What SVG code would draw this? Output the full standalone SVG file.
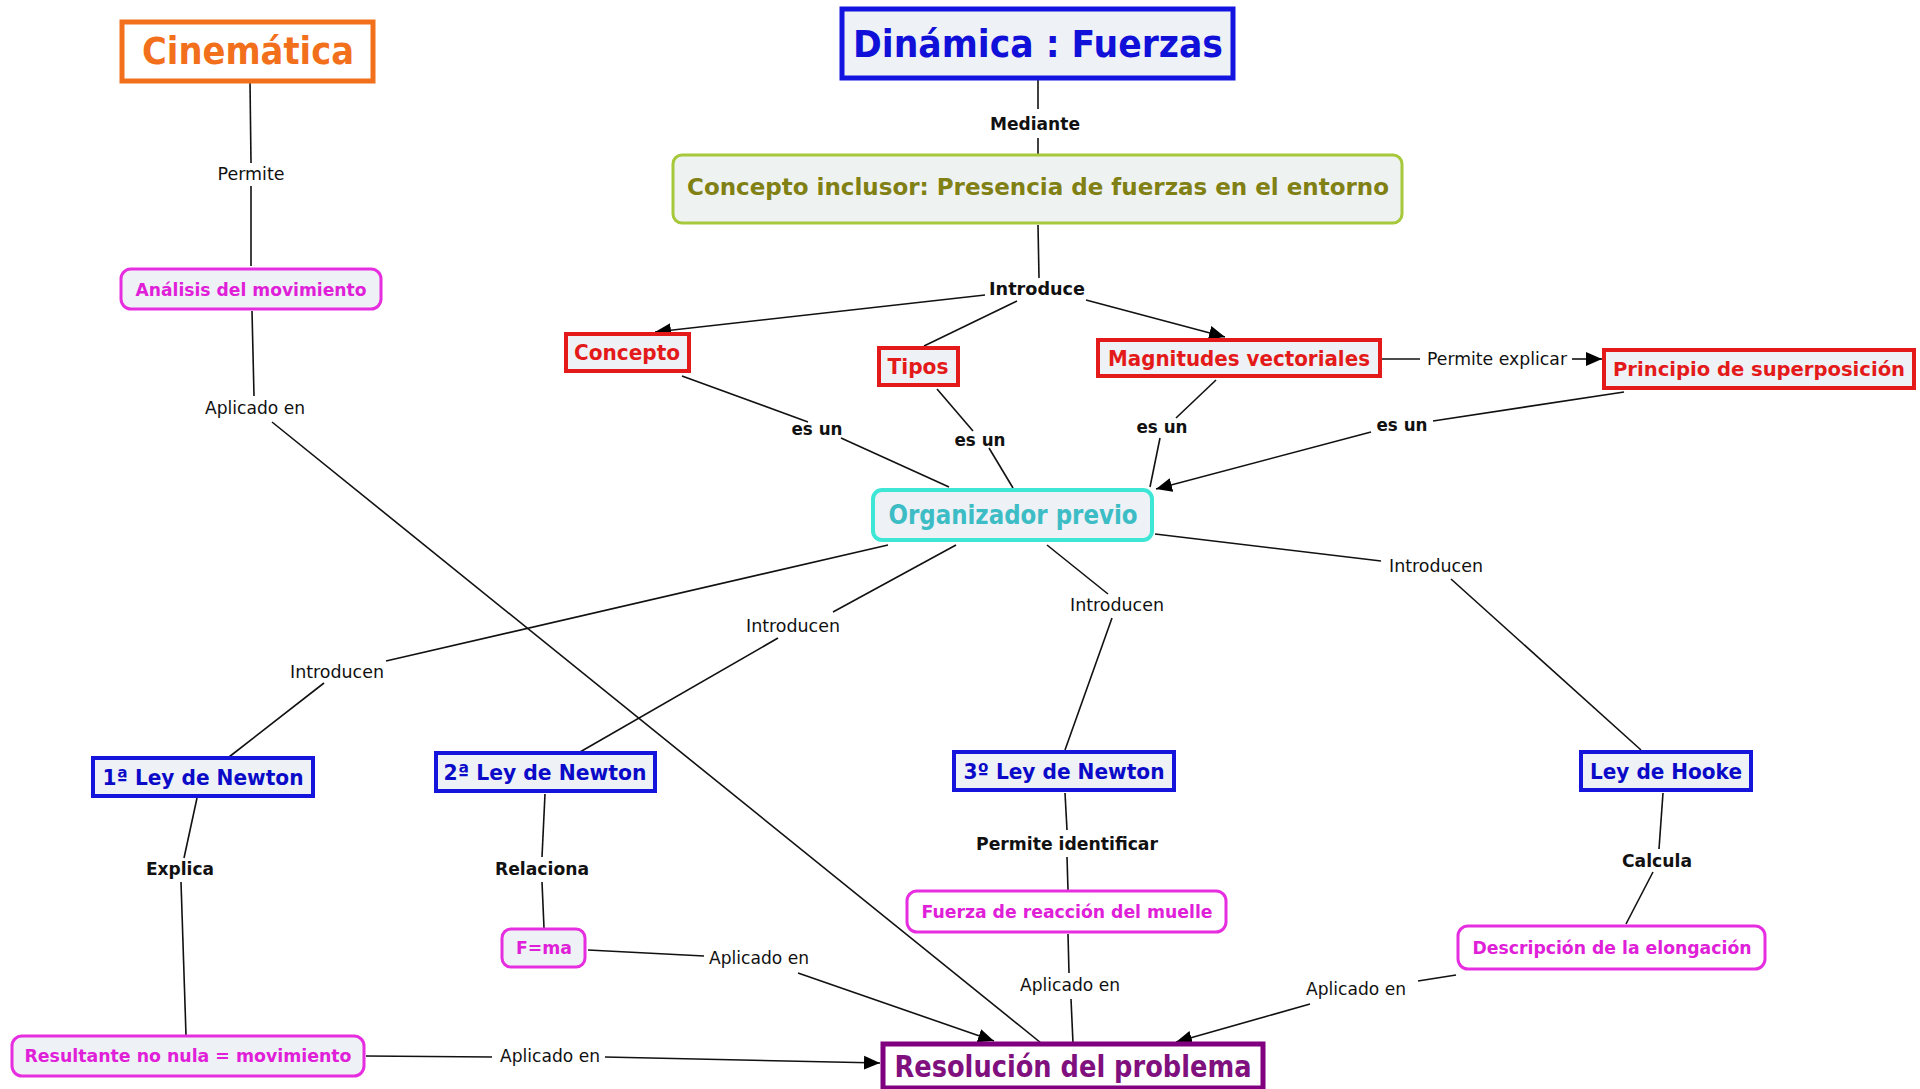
<svg xmlns="http://www.w3.org/2000/svg" width="1920" height="1089" viewBox="0 0 1920 1089">
<style>
text{font-family:"DejaVu Sans",Verdana,sans-serif;text-anchor:middle}
.b{font-weight:bold}
.lbl{font-size:17px;fill:#111}
.lb{font-size:17px;font-weight:bold;fill:#111}
.c line{stroke:#111;stroke-width:1.6}
.box{fill:#eef2f6}
.red rect{stroke:#e41a1a;stroke-width:4}
.red text{fill:#e41a1a;font-size:21px;font-weight:bold}
.blue rect{stroke:#1414dc;stroke-width:4}
.blue text{fill:#0a0ac8;font-size:21px;font-weight:bold}
.mag rect{stroke:#e62ee0;stroke-width:3}
.mag text{fill:#e020d8;font-size:18px;font-weight:bold}
</style>
<defs>
<marker id="ar" markerUnits="userSpaceOnUse" markerWidth="18" markerHeight="16" refX="16" refY="8" orient="auto"><path d="M0,1 L16,8 L0,15 Z" fill="#000"/></marker>
</defs>
<rect width="1920" height="1089" fill="#fff"/>
<g class="c">
<line x1="250" y1="82" x2="251" y2="163"/><line x1="251" y1="186" x2="251" y2="266"/>
<line x1="252" y1="311" x2="254" y2="396"/><line x1="272" y1="422" x2="1041" y2="1043"/>
<line x1="1038" y1="80" x2="1038" y2="109"/><line x1="1038" y1="138" x2="1038" y2="155"/>
<line x1="1038" y1="225" x2="1039" y2="278"/>
<line x1="985" y1="295" x2="655" y2="332" marker-end="url(#ar)"/>
<line x1="1017" y1="301" x2="924" y2="346"/>
<line x1="1086" y1="300" x2="1225" y2="337" marker-end="url(#ar)"/>
<line x1="1382" y1="359" x2="1420" y2="359"/><line x1="1572" y1="359" x2="1602" y2="359" marker-end="url(#ar)"/>
<line x1="682" y1="376" x2="808" y2="422"/><line x1="841" y1="438" x2="949" y2="487"/>
<line x1="937" y1="389" x2="973" y2="431"/><line x1="989" y1="448" x2="1013" y2="488"/>
<line x1="1216" y1="380" x2="1176" y2="418"/><line x1="1160" y1="438" x2="1150" y2="487"/>
<line x1="1624" y1="392" x2="1433" y2="421"/><line x1="1371" y1="432" x2="1156" y2="489" marker-end="url(#ar)"/>
<line x1="888" y1="545" x2="386" y2="661"/><line x1="324" y1="683" x2="229" y2="757"/>
<line x1="956" y1="545" x2="833" y2="612"/><line x1="778" y1="638" x2="580" y2="752"/>
<line x1="1047" y1="545" x2="1108" y2="594"/><line x1="1112" y1="618" x2="1065" y2="750"/>
<line x1="1155" y1="534" x2="1381" y2="561"/><line x1="1451" y1="579" x2="1641" y2="750"/>
<line x1="197" y1="798" x2="184" y2="858"/><line x1="181" y1="882" x2="186" y2="1035"/>
<line x1="545" y1="794" x2="542" y2="857"/><line x1="542" y1="882" x2="544" y2="928"/>
<line x1="1065" y1="793" x2="1067" y2="830"/><line x1="1067" y1="857" x2="1068" y2="890"/>
<line x1="1663" y1="793" x2="1659" y2="849"/><line x1="1653" y1="872" x2="1626" y2="924"/>
<line x1="588" y1="950" x2="704" y2="956"/><line x1="798" y1="973" x2="994" y2="1041" marker-end="url(#ar)"/>
<line x1="1068" y1="934" x2="1069" y2="973"/><line x1="1071" y1="999" x2="1073" y2="1043"/>
<line x1="1456" y1="975" x2="1418" y2="981"/><line x1="1310" y1="1004" x2="1176" y2="1042" marker-end="url(#ar)"/>
<line x1="366" y1="1056" x2="492" y2="1057"/><line x1="605" y1="1057" x2="880" y2="1063" marker-end="url(#ar)"/>
<text class="lbl" x="251" y="180" textLength="67" lengthAdjust="spacingAndGlyphs">Permite</text>
<text class="lbl" x="255" y="414" textLength="100" lengthAdjust="spacingAndGlyphs">Aplicado en</text>
<text class="lb" x="1035" y="130" textLength="90" lengthAdjust="spacingAndGlyphs">Mediante</text>
<text class="lb" x="1037" y="295" textLength="96" lengthAdjust="spacingAndGlyphs">Introduce</text>
<text class="lbl" x="1497" y="365" textLength="140" lengthAdjust="spacingAndGlyphs">Permite explicar</text>
<text class="lb" x="817" y="435" textLength="51" lengthAdjust="spacingAndGlyphs">es un</text>
<text class="lb" x="980" y="446" textLength="51" lengthAdjust="spacingAndGlyphs">es un</text>
<text class="lb" x="1162" y="433" textLength="51" lengthAdjust="spacingAndGlyphs">es un</text>
<text class="lb" x="1402" y="431" textLength="51" lengthAdjust="spacingAndGlyphs">es un</text>
<text class="lbl" x="337" y="678" textLength="94" lengthAdjust="spacingAndGlyphs">Introducen</text>
<text class="lbl" x="793" y="632" textLength="94" lengthAdjust="spacingAndGlyphs">Introducen</text>
<text class="lbl" x="1117" y="611" textLength="94" lengthAdjust="spacingAndGlyphs">Introducen</text>
<text class="lbl" x="1436" y="572" textLength="94" lengthAdjust="spacingAndGlyphs">Introducen</text>
<text class="lb" x="180" y="875" textLength="68" lengthAdjust="spacingAndGlyphs">Explica</text>
<text class="lb" x="542" y="875" textLength="94" lengthAdjust="spacingAndGlyphs">Relaciona</text>
<text class="lb" x="1067" y="850" textLength="182" lengthAdjust="spacingAndGlyphs">Permite identificar</text>
<text class="lb" x="1657" y="867" textLength="70" lengthAdjust="spacingAndGlyphs">Calcula</text>
<text class="lbl" x="759" y="964" textLength="100" lengthAdjust="spacingAndGlyphs">Aplicado en</text>
<text class="lbl" x="1070" y="991" textLength="100" lengthAdjust="spacingAndGlyphs">Aplicado en</text>
<text class="lbl" x="1356" y="995" textLength="100" lengthAdjust="spacingAndGlyphs">Aplicado en</text>
<text class="lbl" x="550" y="1062" textLength="100" lengthAdjust="spacingAndGlyphs">Aplicado en</text>
</g>
<g id="cinematica"><rect x="122" y="22" width="251" height="59" fill="#fff" stroke="#f2701c" stroke-width="5"/><text x="248" y="64" class="b" font-size="37" fill="#f2701c" textLength="212" lengthAdjust="spacingAndGlyphs">Cinemática</text></g>
<g id="dinamica"><rect x="842" y="9" width="391" height="69" class="box" stroke="#1414e0" stroke-width="5"/><text x="1038" y="57" class="b" font-size="37" fill="#1010d8" textLength="370" lengthAdjust="spacingAndGlyphs">Dinámica : Fuerzas</text></g>
<g id="inclusor"><rect x="673" y="155" width="729" height="68" rx="9" fill="#eef3f2" stroke="#a6c83a" stroke-width="3"/><text x="1038" y="195" class="b" font-size="23" fill="#808014" textLength="702" lengthAdjust="spacingAndGlyphs">Concepto inclusor: Presencia de fuerzas en el entorno</text></g>
<g id="analisis" class="mag"><rect x="121" y="269" width="260" height="40" rx="10" class="box"/><text x="251" y="296" textLength="231" lengthAdjust="spacingAndGlyphs">Análisis del movimiento</text></g>
<g id="concepto" class="red"><rect x="566" y="334" width="123" height="37" class="box"/><text x="627" y="360" textLength="106" lengthAdjust="spacingAndGlyphs">Concepto</text></g>
<g id="tipos" class="red"><rect x="879" y="348" width="79" height="37" class="box"/><text x="918" y="374" textLength="61" lengthAdjust="spacingAndGlyphs">Tipos</text></g>
<g id="magnitudes" class="red"><rect x="1098" y="340" width="282" height="36" class="box"/><text x="1239" y="366" textLength="262" lengthAdjust="spacingAndGlyphs">Magnitudes vectoriales</text></g>
<g id="principio" class="red"><rect x="1604" y="350" width="310" height="38" class="box"/><text x="1759" y="376" style="font-size:19px" textLength="292" lengthAdjust="spacingAndGlyphs">Principio de superposición</text></g>
<g id="organizador"><rect x="873" y="490" width="279" height="50" rx="9" class="box" stroke="#3ee6d6" stroke-width="4"/><text x="1013" y="524" class="b" font-size="26" fill="#3cbcc4" textLength="249" lengthAdjust="spacingAndGlyphs">Organizador previo</text></g>
<g id="ley1" class="blue"><rect x="93" y="758" width="220" height="38" class="box"/><text x="203" y="785" textLength="201" lengthAdjust="spacingAndGlyphs">1ª Ley de Newton</text></g>
<g id="ley2" class="blue"><rect x="436" y="753" width="219" height="38" class="box"/><text x="545" y="780" textLength="203" lengthAdjust="spacingAndGlyphs">2ª Ley de Newton</text></g>
<g id="ley3" class="blue"><rect x="954" y="752" width="220" height="38" class="box"/><text x="1064" y="779" textLength="201" lengthAdjust="spacingAndGlyphs">3º Ley de Newton</text></g>
<g id="hooke" class="blue"><rect x="1581" y="752" width="170" height="38" class="box"/><text x="1666" y="779" textLength="152" lengthAdjust="spacingAndGlyphs">Ley de Hooke</text></g>
<g id="fma" class="mag"><rect x="502" y="929" width="83" height="38" rx="9" class="box"/><text x="544" y="954" textLength="56" lengthAdjust="spacingAndGlyphs">F=ma</text></g>
<g id="resultante" class="mag"><rect x="12" y="1036" width="352" height="40" rx="10" class="box"/><text x="188" y="1062" textLength="327" lengthAdjust="spacingAndGlyphs">Resultante no nula = movimiento</text></g>
<g id="fuerza" class="mag"><rect x="907" y="891" width="319" height="41" rx="10" fill="#fff"/><text x="1067" y="918" textLength="291" lengthAdjust="spacingAndGlyphs">Fuerza de reacción del muelle</text></g>
<g id="descripcion" class="mag"><rect x="1458" y="926" width="307" height="43" rx="10" fill="#fff"/><text x="1612" y="954" textLength="279" lengthAdjust="spacingAndGlyphs">Descripción de la elongación</text></g>
<g id="resolucion"><rect x="883" y="1044" width="380" height="44" fill="#fff" stroke="#800080" stroke-width="5"/><text x="1073" y="1077" class="b" font-size="30" fill="#80107e" textLength="357" lengthAdjust="spacingAndGlyphs">Resolución del problema</text></g>
</svg>
